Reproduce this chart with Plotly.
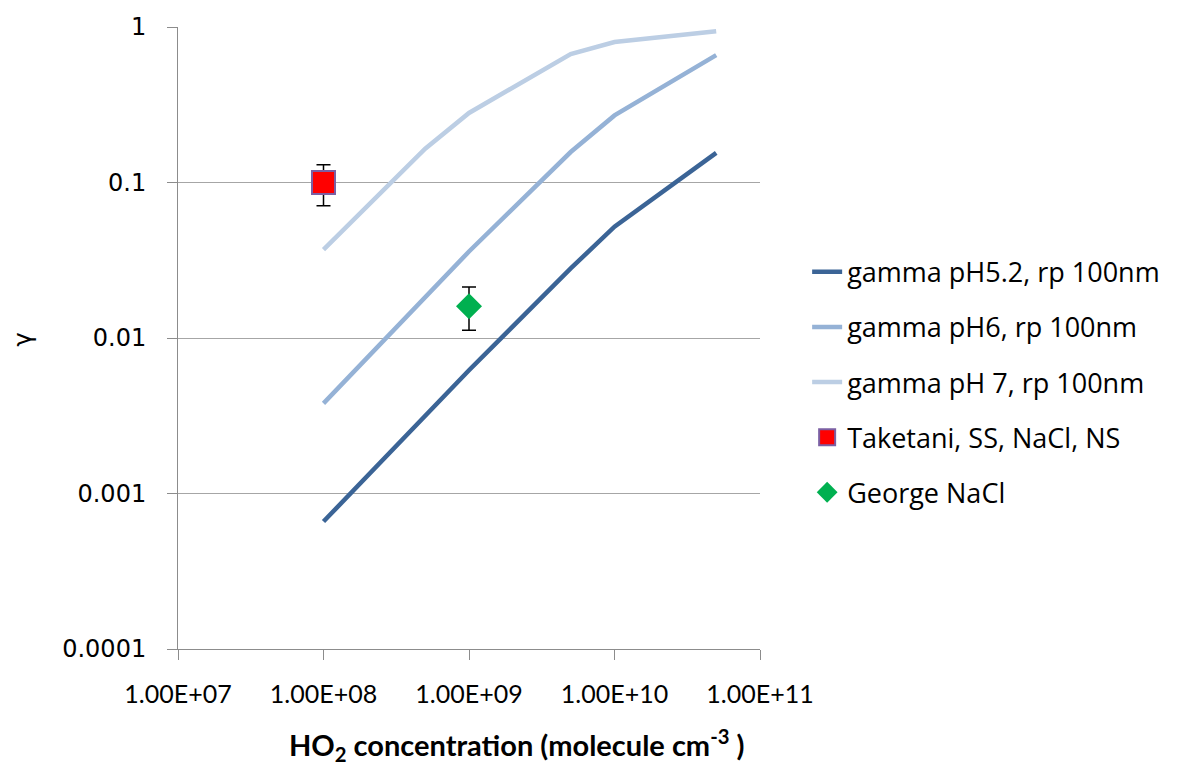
import plotly.graph_objects as go

# HO2 concentration (molecule cm-3)
x_model = [1e8, 5e8, 1e9, 5e9, 1e10, 5e10]
gamma_ph52 = [0.00066, 0.0032, 0.0062, 0.028, 0.052, 0.155]
gamma_ph6 = [0.0038, 0.018, 0.036, 0.157, 0.27, 0.66]
gamma_ph7 = [0.037, 0.165, 0.28, 0.67, 0.80, 0.94]

x_taketani = [1e8]
y_taketani = [0.1]
taketani_err_plus = [0.03]
taketani_err_minus = [0.029]

x_george = [1e9]
y_george = [0.016]
george_err_plus = [0.0053]
george_err_minus = [0.0048]

x_tickvals = [1e7, 1e8, 1e9, 1e10, 1e11]
x_ticktext = ["1.00E+07", "1.00E+08", "1.00E+09", "1.00E+10", "1.00E+11"]
y_tickvals = [0.0001, 0.001, 0.01, 0.1, 1]
y_ticktext = ["0.0001", "0.001", "0.01", "0.1", "1"]

fig = go.Figure()
series = [
    ("gamma pH5.2, rp 100nm", gamma_ph52, "#3b6496"),
    ("gamma pH6, rp 100nm", gamma_ph6, "#95b2d6"),
    ("gamma pH 7, rp 100nm", gamma_ph7, "#bccee4"),
]
for i, (name, ys, col) in enumerate(series):
    fig.add_trace(go.Scatter(x=x_model, y=ys, mode="lines", name=name,
                             line=dict(color=col, width=4.5), legendgroup=f"g{i}"))

fig.add_trace(go.Scatter(
    x=x_taketani, y=y_taketani, mode="markers", name="Taketani, SS, NaCl, NS",
    legendgroup="g3",
    marker=dict(symbol="square", size=23, color="#ff0000", line=dict(color="#7b5fa3", width=2)),
    error_y=dict(type="data", array=taketani_err_plus, arrayminus=taketani_err_minus,
                 color="black", thickness=1.5, width=7)))
fig.add_trace(go.Scatter(
    x=x_george, y=y_george, mode="markers", name="George NaCl",
    legendgroup="g4",
    marker=dict(symbol="diamond", size=20, color="#00b050"),
    error_y=dict(type="data", array=george_err_plus, arrayminus=george_err_minus,
                 color="black", thickness=1.5, width=7)))

fig.update_layout(
    width=1181, height=767,
    paper_bgcolor="white", plot_bgcolor="white",
    margin=dict(l=170, r=429, t=19, b=126, autoexpand=False),
    font=dict(family="Lato, Carlito, sans-serif", color="black"),
    showlegend=True,
    legend=dict(x=1.081, y=0.645, xanchor="left", yanchor="top",
                font=dict(size=27, family="Open Sans, sans-serif"),
                traceorder="grouped", tracegroupgap=17,
                itemsizing="trace", bgcolor="rgba(0,0,0,0)"),
    annotations=[
        dict(text="<b>HO<sub>2</sub> concentration (molecule cm<sup>-3</sup> )</b>",
             xref="paper", yref="paper", x=0.582, y=-0.154,
             xanchor="center", yanchor="middle", showarrow=False,
             font=dict(size=29, family="Lato, sans-serif", color="black")),
        dict(text="γ", xref="paper", yref="paper", x=-0.266, y=0.498,
             xanchor="center", yanchor="middle", showarrow=False, textangle=-90,
             font=dict(size=24, family="DejaVu Sans, sans-serif", color="black")),
    ],
)
fig.update_xaxes(
    type="log", range=[7, 11], automargin=False,
    tickvals=x_tickvals, ticktext=x_ticktext,
    tickfont=dict(size=25, family="Lato, sans-serif"),
    showgrid=False, zeroline=False,
    showline=True, linecolor="#8c8c8c", linewidth=1,
    ticks="outside", ticklen=10, tickcolor="#8c8c8c",
    ticklabelstandoff=13,
)
fig.update_yaxes(
    type="log", range=[-4, 0], automargin=False,
    tickvals=y_tickvals, ticktext=y_ticktext,
    tickfont=dict(size=24, family="DejaVu Sans, sans-serif"),
    showgrid=True, gridcolor="#a6a6a6", gridwidth=1,
    zeroline=False,
    showline=True, linecolor="#8c8c8c", linewidth=1,
    ticks="outside", ticklen=10, tickcolor="#8c8c8c",
    ticklabelstandoff=16,
)

fig.write_html("out.html")
